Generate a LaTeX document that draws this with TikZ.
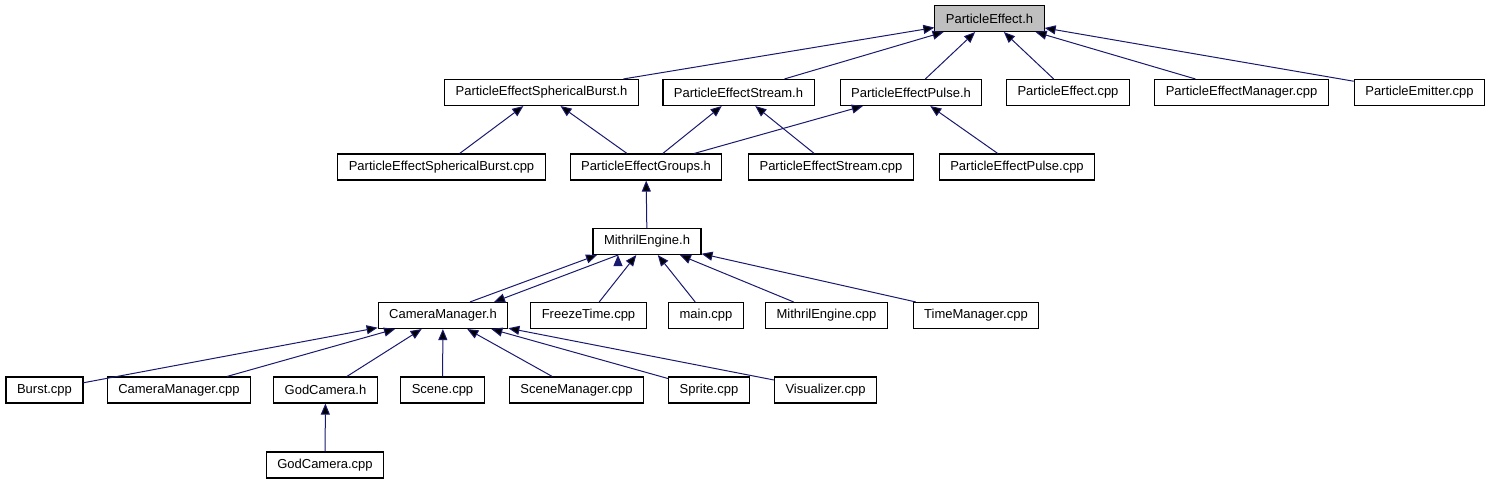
\documentclass[tikz,border=0pt]{standalone}
\usepackage{fontspec}
\setmainfont{Liberation Sans}
\usetikzlibrary{arrows.meta}
\definecolor{edgeblue}{RGB}{25,25,112}
\definecolor{rootgray}{RGB}{191,191,191}
\tikzset{
    >={Triangle[length=11pt,width=9pt]},
    file/.style={
        draw=black,
        line width=1.1pt,
        fill=white,
        minimum height=26pt,
        inner xsep=11pt,
        inner ysep=0pt,
        font=\fontsize{13}{15}\selectfont
    }
}
\begin{document}
\begin{tikzpicture}[
    x=1pt, y=-1pt,
    root/.style={file, fill=rootgray},
    dep/.style={->, draw=edgeblue, line width=1pt}
]
    \useasboundingbox (0,0) rectangle (1493,485);

    % Cabecera principal
    \node[root] (peh)   at (989.5,18.5) {ParticleEffect.h};

    % Primer nivel
    \node[file] (sbh)   at (541.5,92.5)  {ParticleEffectSphericalBurst.h};
    \node[file] (sth)   at (738.5,92.5)  {ParticleEffectStream.h};
    \node[file] (puh)   at (911,92.5)    {ParticleEffectPulse.h};
    \node[file] (pecpp) at (1068,92.5)   {ParticleEffect.cpp};
    \node[file] (pmcpp) at (1241.5,92.5) {ParticleEffectManager.cpp};
    \node[file] (emcpp) at (1419.5,92.5) {ParticleEmitter.cpp};

    % Segundo nivel
    \node[file] (sbcpp) at (441.5,167) {ParticleEffectSphericalBurst.cpp};
    \node[file] (grh)   at (646,167)   {ParticleEffectGroups.h};
    \node[file] (stcpp) at (831,167)   {ParticleEffectStream.cpp};
    \node[file] (pucpp) at (1017,167)  {ParticleEffectPulse.cpp};

    % Motor
    \node[file] (meh)   at (647,241.5) {MithrilEngine.h};

    \node[file] (cmh)   at (443,315.5)   {CameraManager.h};
    \node[file] (ftcpp) at (588.5,315.5) {FreezeTime.cpp};
    \node[file] (mncpp) at (706,315.5)   {main.cpp};
    \node[file] (mecpp) at (826.5,315.5) {MithrilEngine.cpp};
    \node[file] (tmcpp) at (976,315.5)   {TimeManager.cpp};

    % Camara
    \node[file] (bucpp) at (44.5,390)  {Burst.cpp};
    \node[file] (cmcpp) at (179,390)   {CameraManager.cpp};
    \node[file] (gch)   at (325.5,390) {GodCamera.h};
    \node[file] (sccpp) at (442.5,390) {Scene.cpp};
    \node[file] (smcpp) at (576.5,390) {SceneManager.cpp};
    \node[file] (spcpp) at (709,390)   {Sprite.cpp};
    \node[file] (vicpp) at (825.5,390) {Visualizer.cpp};

    \node[file] (gccpp) at (325,465)   {GodCamera.cpp};

    % Dependencias
    \path[dep]
        (sbh)   edge (peh)
        (sth)   edge (peh)
        (puh)   edge (peh)
        (pecpp) edge (peh)
        (pmcpp) edge (peh)
        (emcpp) edge (peh)

        (sbcpp) edge (sbh)
        (grh)   edge (sbh)
        (grh)   edge (sth)
        (stcpp) edge (sth)
        (grh)   edge (puh)
        (pucpp) edge (puh)

        (meh)   edge (grh)

        % Inclusion mutua
        ([xshift=27pt]cmh.north)  edge ([xshift=-50pt]meh.south)
        ([xshift=-29pt]meh.south) edge ([xshift=51pt]cmh.north)

        (ftcpp) edge (meh)
        (mncpp) edge (meh)
        (mecpp) edge (meh)
        (tmcpp) edge (meh)

        (bucpp) edge (cmh)
        (cmcpp) edge (cmh)
        (gch)   edge (cmh)
        (sccpp) edge (cmh)
        (smcpp) edge (cmh)
        (spcpp) edge (cmh)
        (vicpp) edge (cmh)

        (gccpp) edge (gch);

\end{tikzpicture}
\end{document}
